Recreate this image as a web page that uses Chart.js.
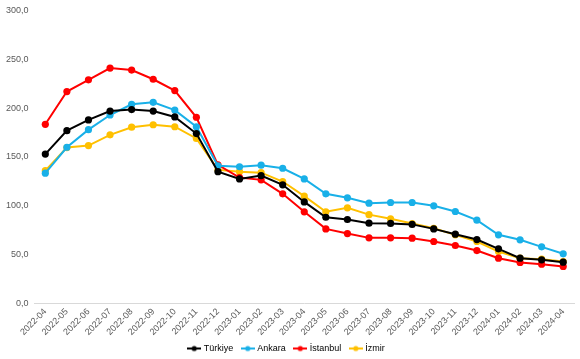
<!DOCTYPE html>
<html><head><meta charset="utf-8">
<script src="https://cdn.jsdelivr.net/npm/chart.js@4/dist/chart.umd.min.js"></script>
<style>html,body{margin:0;padding:0;background:#fff}#w{width:580px;height:359px}</style>
</head><body><div id="w"><canvas id="c"></canvas></div>
<script>
const categories = ["2022-04","2022-05","2022-06","2022-07","2022-08","2022-09","2022-10","2022-11","2022-12","2023-01","2023-02","2023-03","2023-04","2023-05","2023-06","2023-07","2023-08","2023-09","2023-10","2023-11","2023-12","2024-01","2024-02","2024-03","2024-04"];
const turkiye = [153,177,188,197,198.6,197,191,174,135,127.6,131,121.5,104,88.3,86,82.2,82,81,76.4,71,65.5,56,46.4,44.7,42.3];
const ankara = [133.4,160,178,193,204,206,198,181,141,140,141.6,138.5,127.6,112.3,108.2,102.7,103.4,103.4,100,94.2,85.3,70.3,65.2,58,50.9];
const istanbul = [183.5,217,229,241,239,229.6,218,190.7,142,129,126.6,112.3,93.9,76.4,71.6,67.2,67.2,66.9,63.5,59.4,54.2,46.4,42,40.3,37.9];
const izmir = [136,159.7,161.7,172.7,180.5,183,181,169,137,135,134,124.9,110,93.9,98,91,86.7,81.9,77,70.3,63.5,53.2,46.4,45.4,43];
const seriesNames = ["Türkiye","Ankara","İstanbul","İzmir"];
const seriesColors = ["#000000","#19B0E8","#FF0000","#FFC000"];
const yTicks = [0,50,100,150,200,250,300];

function legendIcon(color){
  const c = document.createElement('canvas');
  c.width = 14; c.height = 8;
  const g = c.getContext('2d');
  g.strokeStyle = color; g.lineWidth = 2;
  g.beginPath(); g.moveTo(0,4); g.lineTo(14,4); g.stroke();
  g.fillStyle = color; g.beginPath(); g.arc(7,4,2.6,0,Math.PI*2); g.fill();
  return c;
}
const data = [turkiye, ankara, istanbul, izmir];
const datasets = seriesNames.map((n,i)=>({
  label:n, data:data[i], borderColor:seriesColors[i], backgroundColor:seriesColors[i],
  borderWidth:2, pointRadius:3.6, pointHoverRadius:3.6, pointBorderWidth:0, tension:0
}));
const legendAdjust = {
  id:'legendAdjust',
  beforeInit(chart){
    const lg = chart.legend;
    if(!lg) return;
    const orig = lg.fit;
    lg.fit = function(){ orig.call(this); this.height -= 4; };
  },
  afterLayout(chart){
    const lg = chart.legend;
    if(!lg) return;
    lg.top -= 6; lg.bottom -= 6;
  }
};
Chart.defaults.font.family = "'Liberation Sans', Arial, sans-serif";
Chart.defaults.color = "#595959";
new Chart(document.getElementById('c'), {
  type:'line',
  data:{labels:categories, datasets},
  plugins:[legendAdjust],
  options:{
    responsive:true, maintainAspectRatio:false, animation:false,
    layout:{padding:{top:8.5,right:6,left:0,bottom:-6}},
    plugins:{
      tooltip:{enabled:false},
      legend:{position:'bottom', labels:{
        usePointStyle:true, pointStyleWidth:10, boxHeight:8, padding:9.5,
        font:{size:9}, color:"#000",
        generateLabels(chart){
          return chart.data.datasets.map((d,i)=>({text:d.label, fillStyle:d.borderColor, strokeStyle:d.borderColor, pointStyle:legendIcon(d.borderColor), datasetIndex:i, lineWidth:0, fontColor:'#000'}));
        }
      }}
    },
    scales:{
      x:{ offset:true, grid:{display:false, drawTicks:false}, border:{color:"#d9d9d9"},
        ticks:{maxRotation:45, minRotation:45, font:{size:9}, color:"#595959", padding:3, autoSkip:false}},
      y:{ min:0, max:300, afterBuildTicks(ax){ax.ticks = yTicks.map(v=>({value:v}));},
        grid:{display:false, drawTicks:false}, border:{display:false},
        ticks:{font:{size:9, lineHeight:1}, color:"#595959", padding:6, callback:v=>v.toFixed(1).replace('.',',')}}
    }
  }
});
</script></body></html>
